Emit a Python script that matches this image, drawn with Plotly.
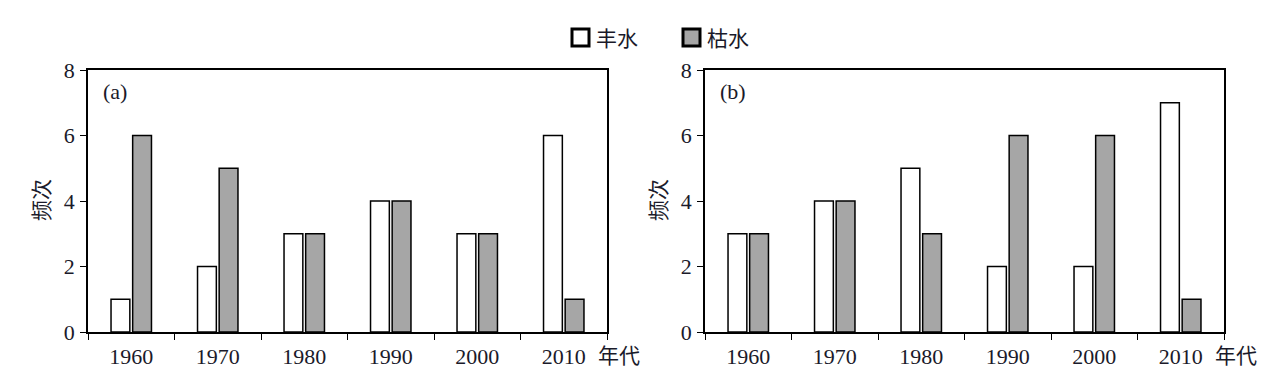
import plotly.graph_objects as go

decades = ["1960", "1970", "1980", "1990", "2000", "2010"]
a_wet = [1, 2, 3, 4, 3, 6]
a_dry = [6, 5, 3, 4, 3, 1]
b_wet = [3, 4, 5, 2, 2, 7]
b_dry = [3, 4, 3, 6, 6, 1]
series_names = ["丰水", "枯水"]
panel_labels = ["(a)", "(b)"]
y_ticks = [0, 2, 4, 6, 8]

W, H = 1274, 386
OFF = 8  # page body margin offset
serif = "Liberation Serif, Times New Roman, serif"
cjk = "Noto Sans CJK SC, sans-serif"
txt = "#1a1a2a"
gray = "#a6a6a6"
colors = ["white", gray]


def px(x):
    return (x - OFF) / W


def py(y):
    return (H - (y - OFF)) / H


fig = go.Figure()
for i, (wet, dry) in enumerate([(a_wet, a_dry), (b_wet, b_dry)]):
    xa = "x" if i == 0 else "x2"
    ya = "y" if i == 0 else "y2"
    for vals, name, col in zip([wet, dry], series_names, colors):
        fig.add_trace(go.Bar(x=decades, y=vals, name=name, xaxis=xa, yaxis=ya,
                             marker=dict(color=col, line=dict(color="black", width=1.5)),
                             showlegend=False))

doms = [(px(88), px(607)), (px(705), px(1224))]
ydom = (py(332), py(70))

axis_common_x = dict(type="category", showline=True, linecolor="black", linewidth=1.5,
                     mirror=True, ticks="outside", ticklen=6, tickwidth=1.2, tickcolor="black",
                     tickson="boundaries", showgrid=False, zeroline=False, automargin=False,
                     ticklabelstandoff=4,
                     tickfont=dict(family=serif, size=22, color=txt))
axis_common_y = dict(range=[0, 8], tickvals=y_ticks, showline=True, linecolor="black",
                     linewidth=1.5, mirror=True, ticks="outside", ticklen=6, tickwidth=1.2,
                     tickcolor="black", showgrid=False, zeroline=False, automargin=False,
                     ticklabelstandoff=1,
                     tickfont=dict(family=serif, size=22, color=txt))

fig.update_layout(
    width=W, height=H,
    margin=dict(l=0, r=0, t=0, b=0, pad=0, autoexpand=False),
    paper_bgcolor="white", plot_bgcolor="white",
    barmode="group", bargap=0.5, bargroupgap=0.13,
    xaxis=dict(domain=doms[0], anchor="y", **axis_common_x),
    yaxis=dict(domain=ydom, anchor="x", **axis_common_y),
    xaxis2=dict(domain=doms[1], anchor="y2", **axis_common_x),
    yaxis2=dict(domain=ydom, anchor="x2", **axis_common_y),
    showlegend=False,
)

# legend (custom, larger boxes like the reference)
leg_items = [(572, series_names[0], colors[0]), (683, series_names[1], colors[1])]
for x0, name, col in leg_items:
    fig.add_shape(type="rect", xref="paper", yref="paper",
                  x0=px(x0), x1=px(x0 + 17), y0=py(46), y1=py(29),
                  fillcolor=col, line=dict(color="black", width=3))
    fig.add_annotation(x=px(x0 + 22), y=py(37), xref="paper", yref="paper", text=name,
                       showarrow=False, xanchor="left", yanchor="middle",
                       font=dict(family=cjk, size=21, color=txt))

for i, d in enumerate(doms):
    fig.add_annotation(x=d[0] + 13 / W, y=py(91), xref="paper", yref="paper",
                       text=panel_labels[i], showarrow=False, xanchor="left", yanchor="middle",
                       font=dict(family=serif, size=22, color=txt))
    fig.add_annotation(x=d[0] - 48 / W, y=py(200), xref="paper", yref="paper",
                       text="频次", textangle=-90, showarrow=False, xanchor="center",
                       yanchor="middle", font=dict(family=cjk, size=21, color=txt))
    fig.add_annotation(x=d[1] - 11 / W, y=py(354), xref="paper", yref="paper",
                       text="年代", showarrow=False, xanchor="left", yanchor="middle",
                       font=dict(family=cjk, size=21, color=txt))

fig.write_html("out.html")
